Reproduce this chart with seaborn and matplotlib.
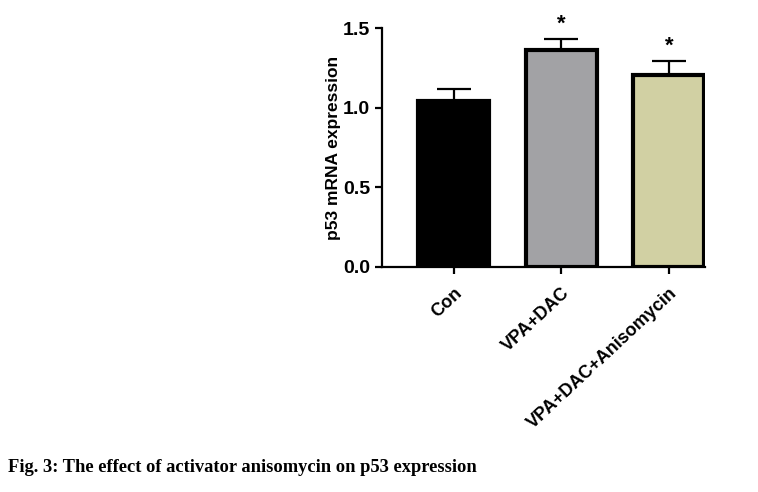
import matplotlib
matplotlib.use("Agg")
import matplotlib.pyplot as plt
import pandas as pd
import seaborn as sns

groups = ["Con", "VPA+DAC", "VPA+DAC+Anisomycin"]
means = [1.04, 1.365, 1.205]
sd = [0.08, 0.07, 0.09]
marks = ["", "*", "*"]
colors = ["#000000", "#A2A1A6", "#D8D79C"]

df = pd.DataFrame({"group": groups, "mean": means})

sns.set_style("ticks")
plt.rcParams["font.family"] = ["Liberation Sans", "DejaVu Sans"]
plt.rcParams["text.color"] = "black"
plt.rcParams["axes.labelcolor"] = "black"
plt.rcParams["xtick.color"] = "black"
plt.rcParams["ytick.color"] = "black"
plt.rcParams["axes.edgecolor"] = "black"

fig = plt.figure(figsize=(7.58, 4.92), dpi=100)
ax = fig.add_axes([0.5036, 0.458, 0.427, 0.4845])

sns.barplot(data=df, x="group", y="mean", hue="group", palette=colors,
            legend=False, errorbar=None, width=0.66, edgecolor="black",
            linewidth=3, ax=ax)

# upper error bars only, as in the original figure
xs = list(range(len(groups)))
ax.errorbar(xs, means, yerr=[[0] * len(sd), sd], fmt="none", ecolor="black",
            elinewidth=1.6, capsize=12, capthick=1.6, zorder=1)
for x, m, s, t in zip(xs, means, sd, marks):
    if t:
        ax.text(x, m + s + 0.025, t, ha="center", va="bottom", fontsize=16,
                fontweight="bold", clip_on=False)

ax.set_ylim(0, 1.5)
ax.set_xlim(-0.67, 2.34)
ax.set_yticks([0.0, 0.5, 1.0, 1.5])
ax.set_yticklabels(["0.0", "0.5", "1.0", "1.5"], fontsize=14, fontweight="bold")
ax.set_xticks(xs)
ax.set_xticklabels(groups, rotation=43, ha="right", rotation_mode="anchor",
                   fontsize=13, fontweight="bold")
ax.set_xlabel("")
ax.set_ylabel("p53 mRNA expression", fontsize=12.5, fontweight="bold", labelpad=1)
ax.tick_params(width=1.6, length=5)
ax.tick_params(axis="x", pad=8)
for side in ["left", "bottom"]:
    ax.spines[side].set_linewidth(1.6)
sns.despine(ax=ax)

fig.text(0.01, 0.04, "Fig. 3: The effect of activator anisomycin on p53 expression",
         fontsize=13.3, fontweight="bold", family=["Liberation Serif", "DejaVu Serif"])

fig.savefig("out.png", dpi=100)
